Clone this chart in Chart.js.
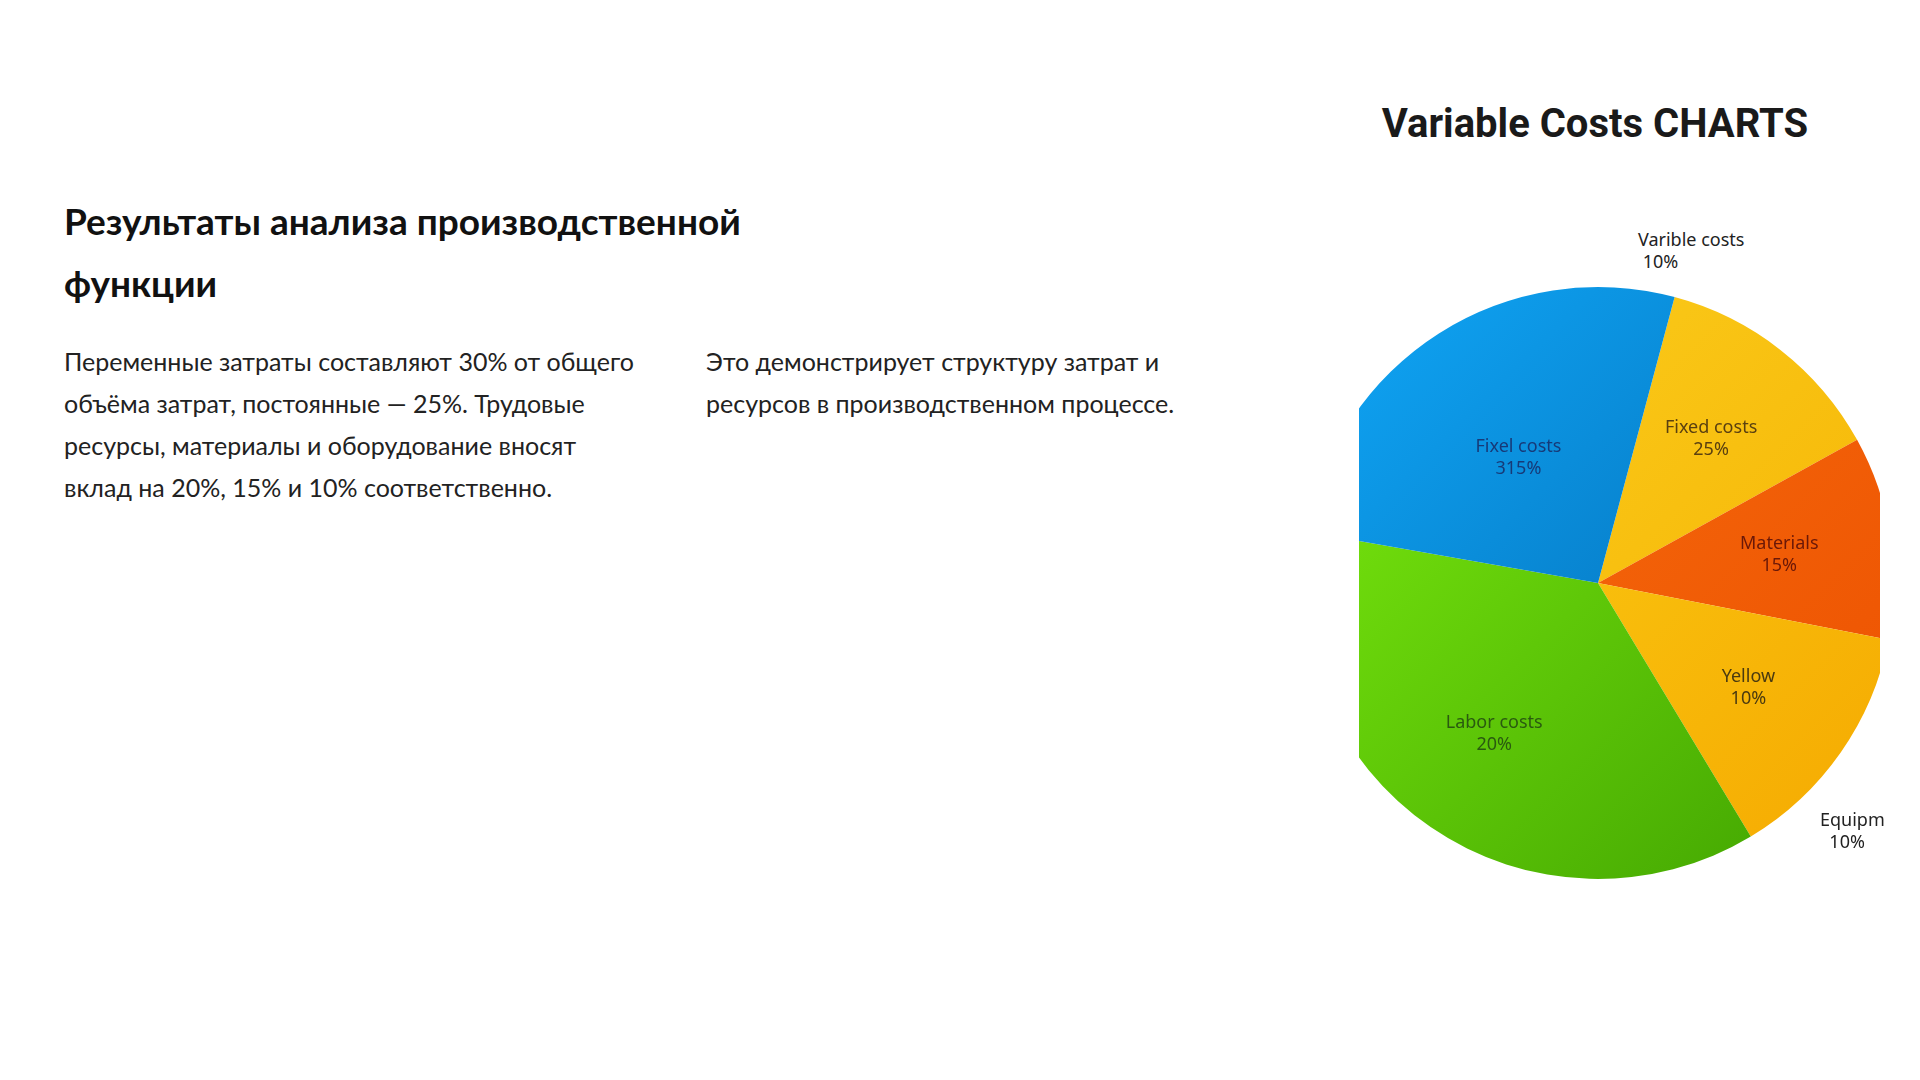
<!DOCTYPE html>
<html>
<head>
<meta charset="utf-8">
<script src="https://cdn.jsdelivr.net/npm/chart.js@4"></script>
<style>
  body { margin: 0; width: 1920px; height: 1080px; background: #fff; font-family: Lato, "Noto Sans", sans-serif; position: relative; overflow: hidden; }
  h1 { position: absolute; left: 64px; top: 190px; margin: 0; font-size: 37px; font-weight: 700; line-height: 62px; color: #111; width: 820px; }
  .col { position: absolute; top: 340px; font-size: 25px; line-height: 42px; color: #222; }
  #c1 { left: 64px; width: 570px; }
  #c2 { left: 706px; width: 560px; }
  #title { position: absolute; left: 1380px; width: 430px; top: 100px; text-align: center; font-family: Roboto, Arial, sans-serif; font-weight: 700; font-size: 40px; color: #1a1a1a; }
  #clip { position: absolute; left: 1359px; top: 270px; width: 521px; height: 640px; overflow: hidden; }
  #wrap { position: absolute; left: -61px; top: 8px; width: 600px; height: 610px; }
  .out { position: absolute; font-family: "Noto Sans", sans-serif; font-size: 18px; line-height: 22px; color: #222; }
</style>
</head>
<body>
<h1>Результаты анализа производственной функции</h1>
<div class="col" id="c1">Переменные затраты составляют 30% от общего объёма затрат, постоянные — 25%. Трудовые ресурсы, материалы и оборудование вносят вклад на 20%, 15% и 10% соответственно.</div>
<div class="col" id="c2">Это демонстрирует структуру затрат и ресурсов в производственном процессе.</div>
<div id="title">Variable Costs CHARTS</div>
<div id="clip"><div id="wrap"><canvas id="pie"></canvas></div></div>
<div class="out" style="left:1638px;top:228px;">Varible costs<br>&nbsp;10%</div>
<div class="out" style="left:1820px;top:808px;">Equipm<br>&nbsp;&nbsp;10%</div>
<script>
// DATA
const sliceNames = ['Fixed costs', 'Materials', 'Yellow', 'Labor costs', 'Fixel costs'];
const sliceLabels = ['25%', '15%', '10%', '20%', '315%'];
const sliceShares = [12.8, 11.1, 13.3, 36.4, 26.4];
const sliceColors = [['#fbd020', '#f5b000'], ['#f87010', '#ec5000'], ['#fcd418', '#f5a800'], ['#80f010', '#3ea000'], ['#10a8f8', '#0060a8']];
const labelColors = ['#5a4010', '#6a1808', '#4a3a10', '#2a5a10', '#173a78'];

const sliceLabelPlugin = {
    id: 'sliceLabels',
    afterDatasetsDraw(chart) {
        const ctx = chart.ctx;
        chart.getDatasetMeta(0).data.forEach((arc, i) => {
            const p = arc.getProps(['x', 'y', 'startAngle', 'endAngle', 'outerRadius']);
            const mid = (p.startAngle + p.endAngle) / 2;
            const f = i === 3 ? 0.62 : (i === 4 ? 0.5 : 0.62);
            const x = p.x + Math.cos(mid) * p.outerRadius * f;
            const y = p.y + Math.sin(mid) * p.outerRadius * f;
            ctx.save();
            ctx.fillStyle = labelColors[i];
            ctx.font = '18px "Noto Sans", sans-serif';
            ctx.textAlign = 'center';
            ctx.textBaseline = 'middle';
            ctx.fillText(sliceNames[i], x, y - 11);
            ctx.fillText(sliceLabels[i], x, y + 11);
            ctx.restore();
        });
    }
};

const gradFor = (c) => {
    const chart = c.chart;
    const a = chart.chartArea;
    if (!a) return sliceColors[c.dataIndex][0];
    const g = chart.ctx.createLinearGradient(a.left, a.top, a.right, a.bottom);
    g.addColorStop(0, sliceColors[c.dataIndex][0]);
    g.addColorStop(1, sliceColors[c.dataIndex][1]);
    return g;
};

new Chart(document.getElementById('pie'), {
    type: 'pie',
    data: { labels: sliceNames, datasets: [{ data: sliceShares, backgroundColor: gradFor, borderWidth: 0 }] },
    options: {
        responsive: true,
        maintainAspectRatio: false,
        animation: false,
        rotation: 15,
        layout: { padding: 4 },
        plugins: { legend: { display: false }, tooltip: { enabled: false } }
    },
    plugins: [sliceLabelPlugin]
});
</script>
</body>
</html>
